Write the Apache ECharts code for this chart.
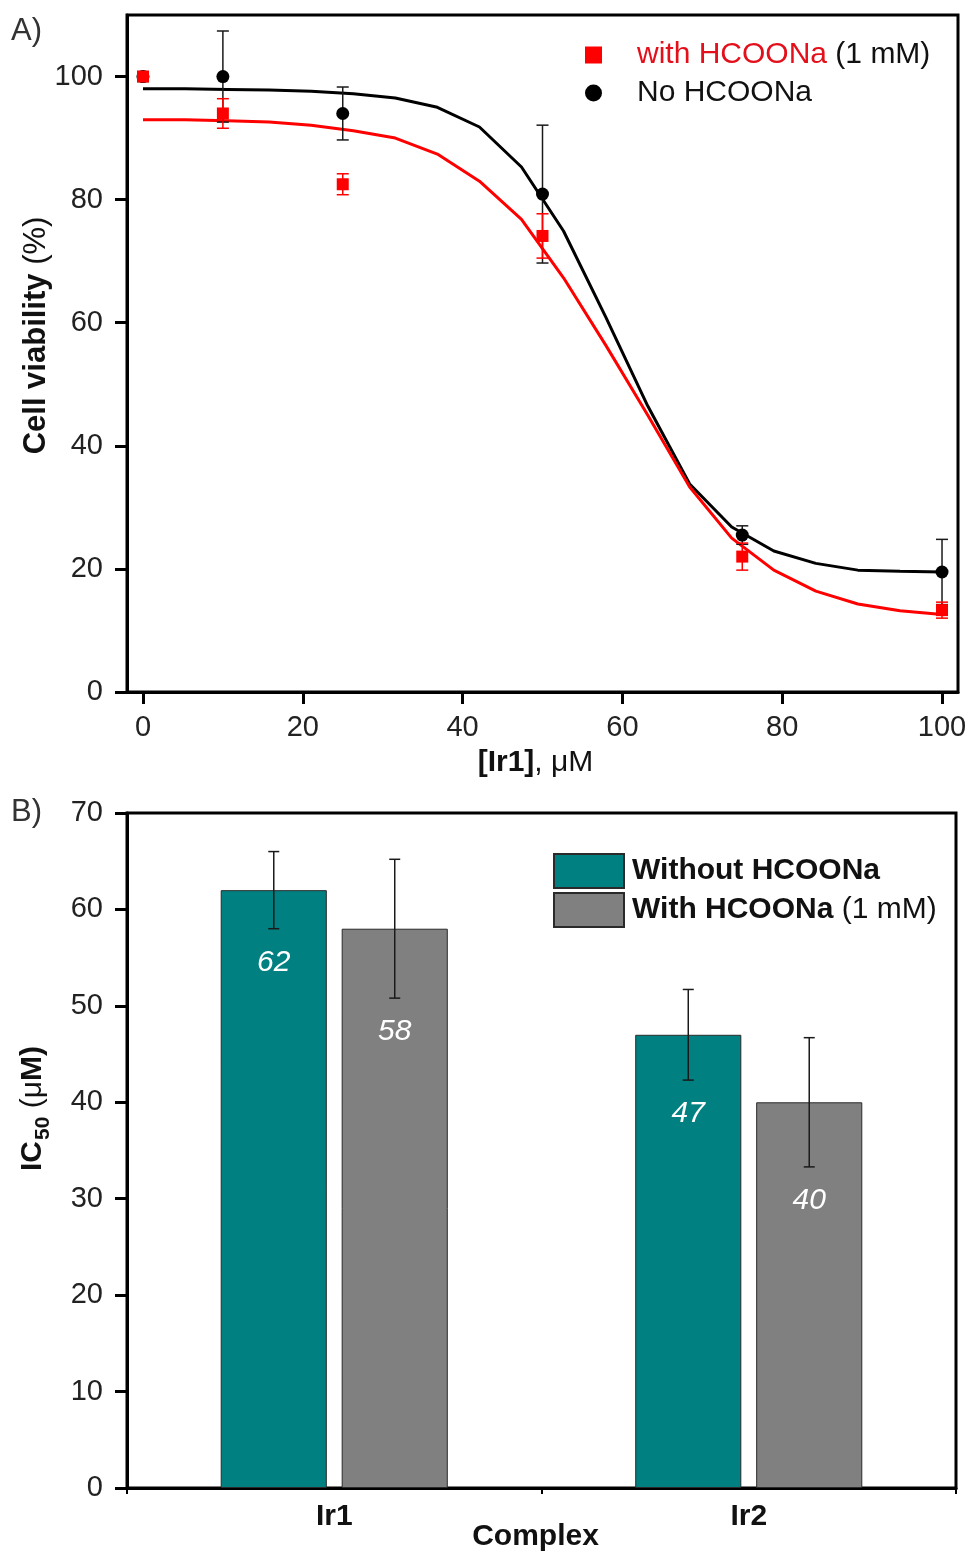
<!DOCTYPE html>
<html>
<head>
<meta charset="utf-8">
<script src="https://cdn.jsdelivr.net/npm/echarts@6/dist/echarts.min.js"></script>
<style>
  html, body { margin: 0; padding: 0; background: #fff; }
  #chart { width: 971px; height: 1553px; }
</style>
</head>
<body>
<div id="chart"></div>
<script>
const FONT = '"Liberation Sans", Arial, Helvetica, sans-serif';

// ---- Panel A: cell viability vs [Ir1] ----
const concentrations = [0, 10, 25, 50, 75, 100];
const viabilityWith = [100, 94, 82.5, 74.1, 22.0, 13.3];
const viabilityWithErr = [0.7, 2.4, 1.7, 3.6, 2.2, 1.3];
const viabilityNo = [100, 100, 94, 80.9, 25.5, 19.5];
const viabilityNoErr = [0.8, 7.4, 4.3, 11.2, 1.5, 5.3];

// fitted dose-response curves
const fitX = [0, 5.26, 10.53, 15.79, 21.05, 26.32, 31.58, 36.84, 42.11, 47.37,
              52.63, 57.89, 63.16, 68.42, 73.68, 78.95, 84.21, 89.47, 94.74, 100];
const fitWith = [93.0, 93.0, 92.8, 92.6, 92.1, 91.2, 90.0, 87.4, 83.0, 76.8,
                 67.3, 56.4, 45.0, 33.3, 25.0, 19.8, 16.4, 14.3, 13.2, 12.6];
const fitNo = [98.0, 98.0, 97.9, 97.8, 97.6, 97.2, 96.5, 95.0, 91.8, 85.3,
               74.9, 61.0, 46.5, 33.8, 26.8, 22.9, 20.9, 19.8, 19.6, 19.5];

const xTicksA = [0, 20, 40, 60, 80, 100];
const yTicksA = [0, 20, 40, 60, 80, 100];

// ---- Panel B: IC50 values ----
const complexes = ['Ir1', 'Ir2'];
const ic50Without = [62, 47];
const ic50WithoutErr = [4.0, 4.7];
const ic50With = [58, 40];
const ic50WithErr = [7.2, 6.7];

const RED = '#ff0000';
const RED_TEXT = '#e3101b';
const TEAL = '#008080';
const GREY = '#808080';
const INK = '#1a1a1a';

const BAR_W = 0.256;   // bar width as a share of the category band
const BAR_GAP = 0.14;  // gap between paired bars as a share of bar width

function pairs(xs, ys) { return xs.map((x, i) => [x, ys[i]]); }

function pointErrorBars(xs, ys, errs, color, z) {
  return {
    type: 'custom', xAxisIndex: 0, yAxisIndex: 0, z: z, silent: true,
    data: xs.map((x, i) => [x, ys[i] - errs[i], ys[i] + errs[i]]),
    renderItem(params, api) {
      const lo = api.coord([api.value(0), api.value(1)]);
      const hi = api.coord([api.value(0), api.value(2)]);
      const hw = 6;
      const st = { stroke: color, lineWidth: 1.5 };
      return { type: 'group', children: [
        { type: 'line', shape: { x1: lo[0], y1: lo[1], x2: hi[0], y2: hi[1] }, style: st },
        { type: 'line', shape: { x1: lo[0] - hw, y1: lo[1], x2: lo[0] + hw, y2: lo[1] }, style: st },
        { type: 'line', shape: { x1: hi[0] - hw, y1: hi[1], x2: hi[0] + hw, y2: hi[1] }, style: st }
      ]};
    }
  };
}

function barErrorBars(vals, errs, side) {
  return {
    type: 'custom', xAxisIndex: 1, yAxisIndex: 1, z: 5, silent: true,
    data: vals.map((v, i) => [i, v, errs[i]]),
    renderItem(params, api) {
      const cat = api.value(0), v = api.value(1), e = api.value(2);
      const band = api.size([1, 0])[0];
      const w = band * BAR_W;
      const off = side * (w + w * BAR_GAP) / 2;
      const hi = api.coord([cat, v + e]);
      const lo = api.coord([cat, v - e]);
      const x = hi[0] + off;
      const hw = 5.5;
      const st = { stroke: INK, lineWidth: 1.5 };
      return { type: 'group', children: [
        { type: 'line', shape: { x1: x, y1: lo[1], x2: x, y2: hi[1] }, style: st },
        { type: 'line', shape: { x1: x - hw, y1: lo[1], x2: x + hw, y2: lo[1] }, style: st },
        { type: 'line', shape: { x1: x - hw, y1: hi[1], x2: x + hw, y2: hi[1] }, style: st },
        { type: 'text', style: {
            text: String(v), x: x, y: lo[1] + 34,
            fill: '#ffffff', fontFamily: FONT, fontSize: 30, fontStyle: 'italic',
            align: 'center', verticalAlign: 'middle'
        }}
      ]};
    }
  };
}

const axisFont = { fontFamily: FONT, fontSize: 29, color: '#222' };

const option = {
  animation: false,
  backgroundColor: '#ffffff',
  textStyle: { fontFamily: FONT },
  grid: [
    { left: 127, top: 15, width: 831, height: 677, show: true, outerBoundsMode: 'none',
      borderColor: '#000', borderWidth: 3, backgroundColor: 'transparent' },
    { left: 127, top: 813, width: 829, height: 675, show: true, outerBoundsMode: 'none',
      borderColor: '#000', borderWidth: 3, backgroundColor: 'transparent' }
  ],
  xAxis: [
    {
      type: 'value', gridIndex: 0, min: -2, max: 102,
      axisLine: { onZero: false, lineStyle: { color: '#000', width: 3 } },
      axisTick: { customValues: xTicksA, length: 12, lineStyle: { color: '#000', width: 3 } },
      axisLabel: Object.assign({ customValues: xTicksA, margin: 21 }, axisFont),
      splitLine: { show: false },
      name: '{b|[Ir1]}{n|, μM}', nameLocation: 'middle', nameGap: 55, nameMoveOverlap: false,
      nameTextStyle: {
        padding: [0, 14, 0, 0],
        rich: {
          b: { fontFamily: FONT, fontSize: 30, fontWeight: 'bold', color: '#111', lineHeight: 32 },
          n: { fontFamily: FONT, fontSize: 30, color: '#111', lineHeight: 32 }
        }
      }
    },
    {
      type: 'category', gridIndex: 1, data: complexes,
      axisLine: { lineStyle: { color: '#000', width: 3 } },
      axisTick: { show: true, length: 6, lineStyle: { color: '#000', width: 2 } },
      axisLabel: { fontFamily: FONT, fontSize: 30, fontWeight: 'bold', color: '#111', margin: 14 },
      name: 'Complex', nameLocation: 'middle', nameGap: 34, nameMoveOverlap: false,
      nameTextStyle: { fontFamily: FONT, fontSize: 30, fontWeight: 'bold', color: '#111', padding: [0, 12, 0, 0] }
    }
  ],
  yAxis: [
    {
      type: 'value', gridIndex: 0, min: 0, max: 110,
      axisLine: { show: true, onZero: false, lineStyle: { color: '#000', width: 3 } },
      axisTick: { show: true, customValues: yTicksA, length: 12, lineStyle: { color: '#000', width: 3 } },
      axisLabel: Object.assign({ customValues: yTicksA, margin: 24 }, axisFont),
      splitLine: { show: false },
      name: '{b|Cell viability}{n| (%)}', nameLocation: 'middle', nameGap: 75, nameRotate: 90,
      nameMoveOverlap: false,
      nameTextStyle: {
        padding: [0, 0, 0, 36],
        rich: {
          b: { fontFamily: FONT, fontSize: 31, fontWeight: 'bold', color: '#111', lineHeight: 32 },
          n: { fontFamily: FONT, fontSize: 31, color: '#111', lineHeight: 32 }
        }
      }
    },
    {
      type: 'value', gridIndex: 1, min: 0, max: 70, interval: 10,
      axisLine: { show: true, lineStyle: { color: '#000', width: 3 } },
      axisTick: { show: true, length: 12, lineStyle: { color: '#000', width: 3 } },
      axisLabel: Object.assign({ margin: 24 }, axisFont),
      splitLine: { show: false },
      name: '{b|IC}{s|50}{n| (μ}{b|M)}', nameLocation: 'middle', nameGap: 77, nameRotate: 90,
      nameMoveOverlap: false,
      nameTextStyle: {
        padding: [0, 0, 0, 84],
        rich: {
          b: { fontFamily: FONT, fontSize: 30, fontWeight: 'bold', color: '#111', lineHeight: 32, verticalAlign: 'top' },
          n: { fontFamily: FONT, fontSize: 30, color: '#111', lineHeight: 32, verticalAlign: 'top' },
          s: { fontFamily: FONT, fontSize: 21, fontWeight: 'bold', color: '#111', lineHeight: 21,
               padding: [15, 0, 0, 1], verticalAlign: 'top' }
        }
      }
    }
  ],
  legend: [
    {
      orient: 'vertical', left: 580, top: 33, itemWidth: 17, itemHeight: 17, itemGap: 4,
      selectedMode: false,
      data: ['with HCOONa (1 mM)', 'No HCOONa'],
      formatter: function (name) {
        return name === 'No HCOONa'
          ? '{g| }{k|No HCOONa}'
          : '{g| }{r|with HCOONa} {k|(1 mM)}';
      },
      textStyle: {
        fontFamily: FONT, fontSize: 30, lineHeight: 34,
        rich: {
          g: { width: 30, fontSize: 30, lineHeight: 34 },
          r: { color: RED_TEXT, fontFamily: FONT, fontSize: 30, lineHeight: 34 },
          k: { color: '#111', fontFamily: FONT, fontSize: 30, lineHeight: 34 }
        }
      }
    },
    {
      orient: 'vertical', left: 548, top: 848, itemWidth: 70, itemHeight: 34, itemGap: 3,
      selectedMode: false, icon: 'rect',
      data: ['Without HCOONa', 'With HCOONa (1 mM)'],
      formatter: function (name) {
        return name === 'Without HCOONa'
          ? '{b|Without HCOONa}'
          : '{b|With HCOONa} {n|(1 mM)}';
      },
      textStyle: {
        fontFamily: FONT, fontSize: 30, lineHeight: 34, padding: [0, 0, 0, 3],
        rich: {
          b: { fontFamily: FONT, fontSize: 30, fontWeight: 'bold', color: '#111', lineHeight: 34 },
          n: { fontFamily: FONT, fontSize: 30, color: '#111', lineHeight: 34 }
        }
      }
    }
  ],
  graphic: [
    { type: 'text', left: 11, top: 16, style: { text: 'A)', fontFamily: FONT, fontSize: 31, fill: '#333' } },
    { type: 'text', left: 11, top: 797, style: { text: 'B)', fontFamily: FONT, fontSize: 31, fill: '#333' } }
  ],
  series: [
    // Panel A: fitted curves
    { name: 'fit-no', type: 'line', xAxisIndex: 0, yAxisIndex: 0, data: pairs(fitX, fitNo),
      showSymbol: false, smooth: false, z: 2, silent: true,
      lineStyle: { color: '#000', width: 3 } },
    { name: 'fit-with', type: 'line', xAxisIndex: 0, yAxisIndex: 0, data: pairs(fitX, fitWith),
      showSymbol: false, smooth: false, z: 3, silent: true,
      lineStyle: { color: RED, width: 3 } },
    // Panel A: measured points with error bars
    pointErrorBars(concentrations, viabilityNo, viabilityNoErr, INK, 4),
    { name: 'No HCOONa', type: 'scatter', xAxisIndex: 0, yAxisIndex: 0,
      data: pairs(concentrations, viabilityNo), symbol: 'circle', symbolSize: 13, z: 5,
      itemStyle: { color: '#000', opacity: 1 } },
    pointErrorBars(concentrations, viabilityWith, viabilityWithErr, RED, 6),
    { name: 'with HCOONa (1 mM)', type: 'scatter', xAxisIndex: 0, yAxisIndex: 0,
      data: pairs(concentrations, viabilityWith), symbol: 'rect', symbolSize: 12, z: 7,
      itemStyle: { color: RED, opacity: 1 } },
    // Panel B: IC50 bars
    { name: 'Without HCOONa', type: 'bar', xAxisIndex: 1, yAxisIndex: 1, data: ic50Without,
      barWidth: (BAR_W * 100) + '%', barGap: (BAR_GAP * 100) + '%', z: 2,
      itemStyle: { color: TEAL, borderColor: '#2a2a2a', borderWidth: 1 } },
    { name: 'With HCOONa (1 mM)', type: 'bar', xAxisIndex: 1, yAxisIndex: 1, data: ic50With,
      barWidth: (BAR_W * 100) + '%', barGap: (BAR_GAP * 100) + '%', z: 2,
      itemStyle: { color: GREY, borderColor: '#2a2a2a', borderWidth: 1 } },
    barErrorBars(ic50Without, ic50WithoutErr, -1),
    barErrorBars(ic50With, ic50WithErr, 1)
  ]
};

const chart = echarts.init(document.getElementById('chart'), null, { renderer: 'canvas' });
chart.setOption(option);
</script>
</body>
</html>
